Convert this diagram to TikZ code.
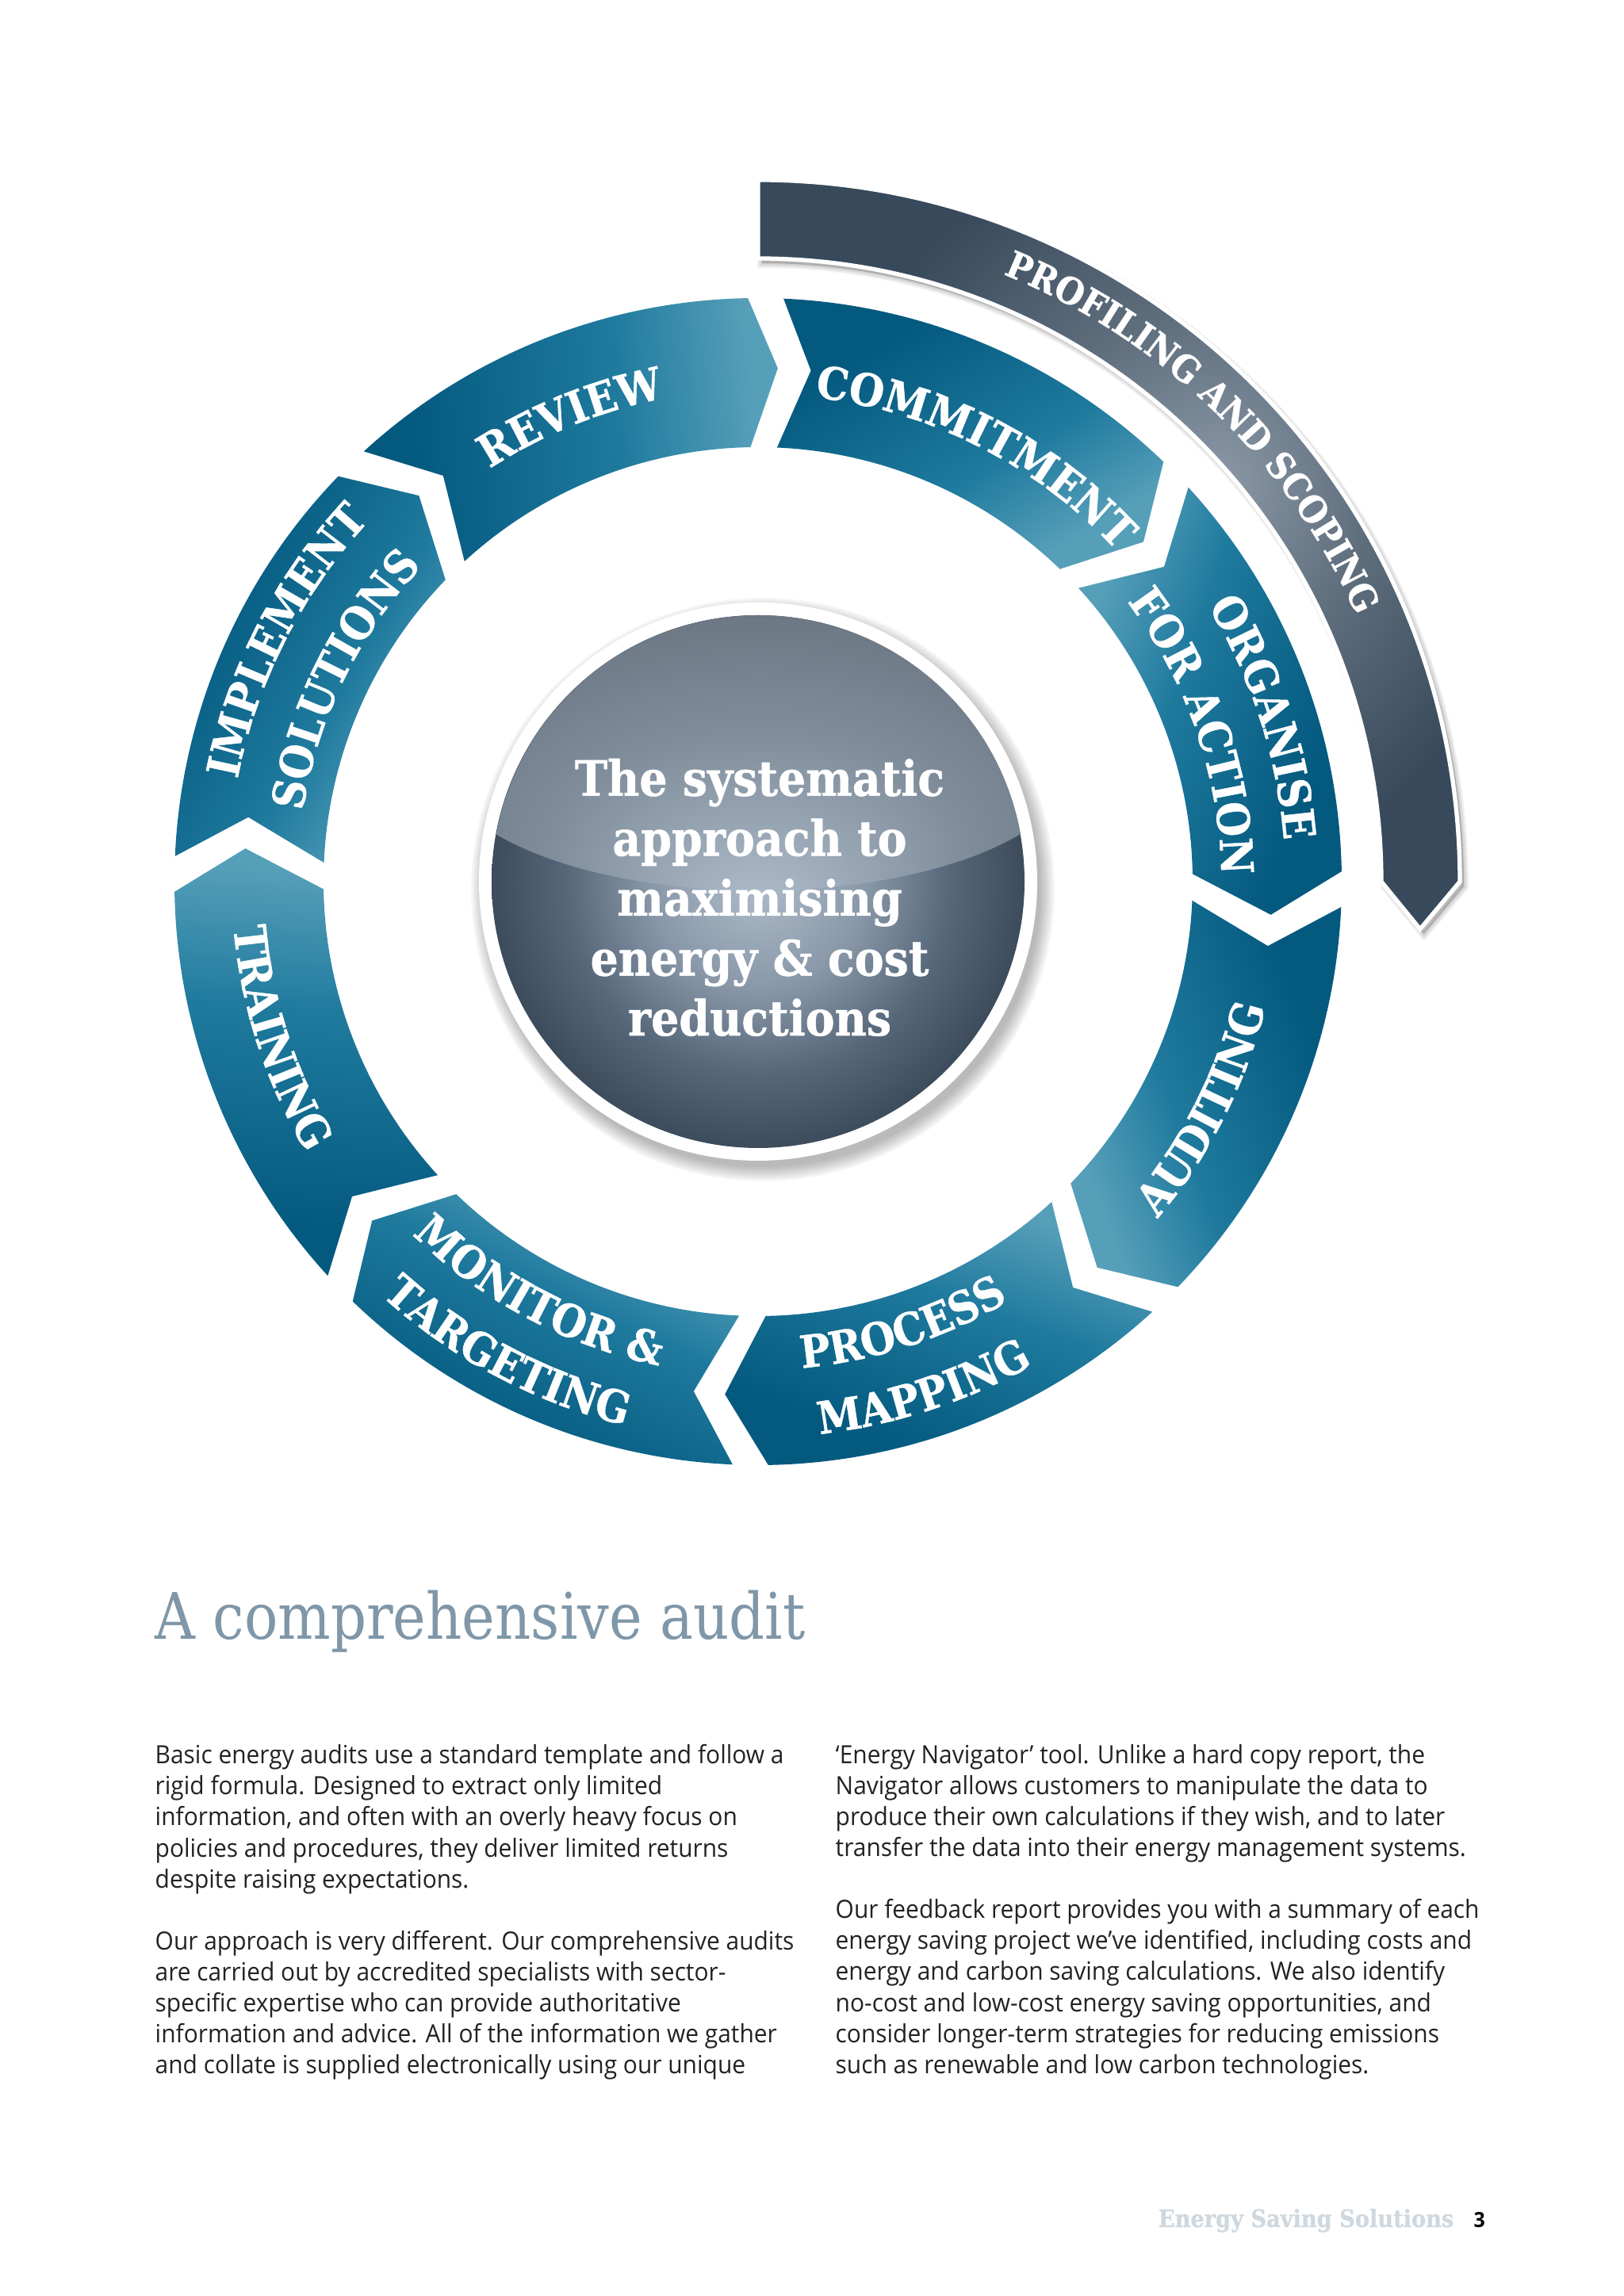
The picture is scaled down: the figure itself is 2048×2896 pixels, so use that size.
\documentclass[tikz,border=0pt]{standalone}
\usepackage{fontspec}
\usetikzlibrary{decorations.text}
\setmainfont[FakeStretch=0.945]{Open Sans}
\newfontfamily\slabfont[FakeStretch=0.9, BoldFeatures={FakeBold=0.8}]{DejaVu Serif}
\newfontfamily\headfont[FakeStretch=0.87]{DejaVu Serif}

\definecolor{segdark}{HTML}{04597F}
\definecolor{segmid}{HTML}{1F7A9E}
\definecolor{seglight}{HTML}{569FB9}
\definecolor{arcdark}{HTML}{37495A}
\definecolor{arcmid}{HTML}{5F6E7D}
\definecolor{arclight}{HTML}{8A98A6}
\definecolor{ballA}{HTML}{AEBCCB}
\definecolor{ballB}{HTML}{8998A8}
\definecolor{ballC}{HTML}{56677A}
\definecolor{ballD}{HTML}{3D4C5C}
\definecolor{glossB}{HTML}{7F8D9B}
\definecolor{glossC}{HTML}{66717C}
\definecolor{headgrey}{HTML}{7F97A8}
\definecolor{footgrey}{HTML}{CFD8DF}
\definecolor{bodyblack}{HTML}{222222}

\pgfdeclareverticalshading{segshade}{100bp}{color(0bp)=(seglight); color(27bp)=(seglight); color(44bp)=(segmid); color(70bp)=(segdark); color(100bp)=(segdark)}
\pgfdeclareradialshading{ballshade}{\pgfpointorigin}{color(0bp)=(ballA); color(10bp)=(ballB); color(18bp)=(ballC); color(25bp)=(ballD); color(50bp)=(ballD)}
\pgfdeclareradialshading{glossshade}{\pgfpoint{0bp}{-25bp}}{color(0bp)=(ballA); color(20bp)=(glossB); color(37bp)=(glossC); color(60bp)=(glossC)}
\pgfdeclareradialshading{arcshade}{\pgfpoint{8bp}{5bp}}{color(0bp)=(arclight); color(12bp)=(arcmid); color(25bp)=(arcdark); color(60bp)=(arcdark)}

\tikzset{
  ringlabel/.style={decorate, decoration={text along path, text align=center, text color=white, text={|\slabfont\bfseries\fontsize{#1}{#1}\selectfont|\ringword}}},
  body/.style={anchor=north west, inner sep=0pt, align=left, text=bodyblack, font=\fontsize{9}{11.1}\selectfont}
}

% from, to, radius, size, word
\newcommand{\ringtext}[5]{
  \def\ringword{#5}
  \path[ringlabel=#4] (#1:#3) arc[start angle=#1, end angle=#2, radius=#3];
}
\newcommand{\arcoutline}{(90:885) arc[start angle=90, end angle=0, radius=885] -- (-4.1:837) -- (0:786) arc[start angle=0, end angle=90, radius=786] -- cycle}

\begin{document}
\begin{tikzpicture}[x=0.01cm, y=0.01cm]
  \useasboundingbox (0,0) rectangle (2048,2896);

  \begin{scope}[shift={(956,1784)}]
    % outer arrow
    \foreach \s in {1,...,5}
    {\begin{scope}[shift={(5,-6)}]
      \path[fill=black, draw=black, fill opacity=.04, draw opacity=.04, line width=\s*.7pt] \arcoutline;
    \end{scope}}
    \path[draw=white, line width=1.5pt, shading=arcshade] \arcoutline;
    \ringtext{70}{22}{826}{13.2}{PROFILING AND SCOPING}

    % ring: start angle, shading angle, notch offset, tip offset
    \foreach \a/\r/\n/\t in {87.5/30/3.4/4.6, 42.5/-110/4.7/4.7, -2.5/-70/4.7/4.7, -47.5/160/4.7/4.7, -92.5/155/4.7/4.7, -137.5/175/4.7/4.7, -182.5/60/4.7/4.7, -227.5/95/4.7/3.2}
    {
      \path[shading=segshade, shading angle=\r] (\a:736) arc[start angle=\a, end angle=\a-41.5, radius=736]
        -- (\a-41.5-\t:648) -- (\a-41.5:548) arc[start angle=\a-41.5, end angle=\a, radius=548]
        -- (\a-\n:648) -- cycle;
    }
    \ringtext{103}{23}{615}{16}{COMMITMENT}
    \ringtext{58}{-22}{665}{16}{ORGANISE}
    \ringtext{59}{-21}{584}{16}{FOR ACTION}
    \ringtext{-67}{13}{659}{16}{AUDITING}
    \ringtext{248}{328}{616}{16}{PROCESS}
    \ringtext{248}{328}{701}{16}{MAPPING}
    \ringtext{202}{282}{623}{16}{MONITOR {\&}}
    \ringtext{202}{282}{706}{16}{TARGETING}
    \ringtext{158}{238}{664}{16}{TRAINING}
    \ringtext{193}{113}{669}{16}{IMPLEMENT}
    \ringtext{194}{114}{581}{16}{SOLUTIONS}
    \ringtext{152}{72}{621}{16}{REVIEW}

    % ball in the middle
    \foreach \s in {1,...,10}
      \fill[black, opacity=.03] (6,-10) circle (348+\s*2);
    \fill[white] (0,0) circle (352);
    \shade[shading=ballshade] (0,0) circle (336);
    \shade[shading=glossshade] (-331,60) .. controls (-170,-35) and (170,-35) .. (331,60)
      arc[start angle=10.3, end angle=169.7, radius=336] -- cycle;
    \node (ball) [text=white, align=center, font=\slabfont\bfseries\fontsize{17.5}{21.5}\selectfont] at (2,-20) {The systematic\\approach to\\maximising\\energy \& cost\\reductions};
  \end{scope}

  \node (heading) [anchor=base west, inner sep=0pt, text=headgrey, font=\headfont\fontsize{23}{23}\selectfont] at (195,828) {A comprehensive audit};

  \node (leftcol) [body] at (195,696) {Basic energy audits use a standard template and follow a\\
    rigid formula. Designed to extract only limited\\
    information, and often with an overly heavy focus on\\
    policies and procedures, they deliver limited returns\\
    despite raising expectations.\\
    \mbox{}\\
    Our approach is very different. Our comprehensive audits\\
    are carried out by accredited specialists with sector-\\
    specific expertise who can provide authoritative\\
    information and advice. All of the information we gather\\
    and collate is supplied electronically using our unique};

  \node (rightcol) [body] at (1053,696) {‘Energy Navigator’ tool. Unlike a hard copy report, the\\
    Navigator allows customers to manipulate the data to\\
    produce their own calculations if they wish, and to later\\
    transfer the data into their energy management systems.\\
    \mbox{}\\
    Our feedback report provides you with a summary of each\\
    energy saving project we’ve identified, including costs and\\
    energy and carbon saving calculations. We also identify\\
    no-cost and low-cost energy saving opportunities, and\\
    consider longer-term strategies for reducing emissions\\
    such as renewable and low carbon technologies.};

  \node (footer) [anchor=base east, inner sep=0pt, text=footgrey, font=\slabfont\bfseries\fontsize{8.6}{9}\selectfont] at (1834,87) {Energy Saving Solutions};
  \node (pagenum) [anchor=base west, inner sep=0pt, text=black, font=\bfseries\fontsize{7.5}{9}\selectfont] at (1858,87) {3};
\end{tikzpicture}
\end{document}
